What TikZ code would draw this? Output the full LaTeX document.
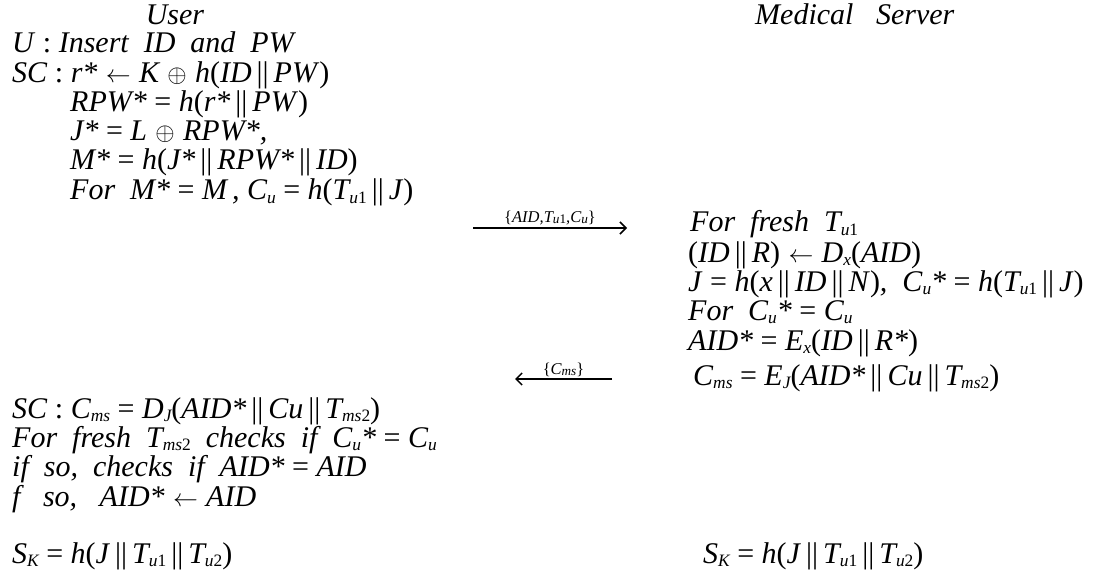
\documentclass[tikz,border=0pt]{standalone}
\usepackage{fontspec}
\setmainfont{LiberationSerif}[Extension=.ttf,UprightFont=*-Regular,ItalicFont=*-Italic,BoldFont=*-Bold]
\usetikzlibrary{arrows.meta}
\makeatletter
\newcommand{\mysb}[1]{\raisebox{-0.12em}{\fontsize{\the\dimexpr 0.58\dimexpr\f@size pt\relax\relax}{1pt}\selectfont #1}}
\newcommand{\mylsb}[1]{\raisebox{-0.05em}{\fontsize{\the\dimexpr 0.8\dimexpr\f@size pt\relax\relax}{1pt}\selectfont #1}}
\makeatother
\newcommand{\myur}[1]{\textup{#1}}
\newcommand{\mycc}{\myur{\,||\,}}
\newcommand{\myeq}{\myur{ = }}
\newcommand{\myla}{\;{\fontsize{34}{34}\selectfont$\leftarrow$}\;}
\newcommand{\myop}{\;{\fontsize{31}{31}\selectfont$\oplus$}\;}
\begin{document}
\begin{tikzpicture}[x=1pt,y=-1pt,
  txt/.style={anchor=base west,inner sep=0pt,font=\fontsize{30}{31}\selectfont\itshape},
  lbl/.style={inner sep=2pt,font=\fontsize{16.5}{17}\selectfont\itshape},
  msg/.style={line width=1.1pt,-{Straight Barb[length=6pt,width=12pt,line width=1.5pt]}}]
\useasboundingbox (0,0) rectangle (1097,577);
% headers
\node[txt,anchor=base] (user) at (175,25) {User};
\node[txt] (ms) at (755,25) {Medical\ \ \ Server};
% user side
\node[txt] (u1) at (12,53) {U\myur{ : }Insert\ \ ID\ \ and\ \ PW};
\node[txt] (u2) at (12,83) {SC\myur{ : }r*\myla K\myop h\myur{(}ID\mycc PW\myur{)}};
\node[txt] (u3) at (70,112) {RPW*\myeq h\myur{(}r*\mycc PW\myur{)}};
\node[txt] (u4) at (70,141) {J*\myeq L\myop RPW*,};
\node[txt] (u5) at (70,170) {M*\myeq h\myur{(}J*\mycc RPW*\mycc ID\myur{)}};
\node[txt] (u6) at (70,200) {For\ \ M*\myeq M\,, C\mysb{u}\myeq h\myur{(}T\mysb{u\myur{1}}\mycc J\myur{)}};
% server side
\node[txt] (s1) at (690,232) {For\ \ fresh\ \ T\mysb{u\myur{1}}};
\node[txt] (s2) at (688,262) {\myur{(}ID\mycc R\myur{)}\myla D\mysb{x}\myur{(}AID\myur{)}};
\node[txt] (s3) at (688,291) {J\myeq h\myur{(}x\mycc ID\mycc N\myur{)},\ \ C\mysb{u}*\myeq h\myur{(}T\mysb{u\myur{1}}\mycc J\myur{)}};
\node[txt] (s4) at (688,320) {For\ \ C\mysb{u}*\myeq C\mysb{u}};
\node[txt] (s5) at (688,350) {AID*\myeq E\mysb{x}\myur{(}ID\mycc R*\myur{)}};
\node[txt] (s6) at (693,385) {C\mysb{ms}\myeq E\mysb{J}\myur{(}AID*\mycc Cu\mycc T\mysb{ms\myur{2}}\myur{)}};
% user bottom
\node[txt] (b1) at (12,418) {SC\myur{ : }C\mysb{ms}\myeq D\mysb{J}\myur{(}AID*\mycc Cu\mycc T\mysb{ms\myur{2}}\myur{)}};
\node[txt] (b2) at (12,447) {For\ \ fresh\ \ T\mysb{ms\myur{2}}\ \ checks\ \ if\ \ C\mysb{u}*\myeq C\mysb{u}};
\node[txt] (b3) at (12,476) {if\ \ so,\ \ checks\ \ if\ \ AID*\myeq AID};
\node[txt] (b4) at (12,506) {f\ \ \ so,\ \ \ AID*\myla AID};
\node[txt] (k1) at (12,563) {S\mysb{K}\myeq h\myur{(}J\mycc T\mysb{u\myur{1}}\mycc T\mysb{u\myur{2}}\myur{)}};
\node[txt] (k2) at (703,563) {S\mysb{K}\myeq h\myur{(}J\mycc T\mysb{u\myur{1}}\mycc T\mysb{u\myur{2}}\myur{)}};
% messages
\coordinate (m1s) at (473,228);
\coordinate (m1e) at (627,228);
\draw[msg] (m1s) -- node[lbl,above] (l1) {\myur{\{}AID,T\mylsb{u\myur{1}},C\mylsb{u}\myur{\}}} (m1e);
\coordinate (m2s) at (612,379);
\coordinate (m2e) at (515,379);
\draw[msg] (m2s) -- node[lbl,above] (l2) {\myur{\{}C\mylsb{ms}\myur{\}}} (m2e);
\end{tikzpicture}
\end{document}
